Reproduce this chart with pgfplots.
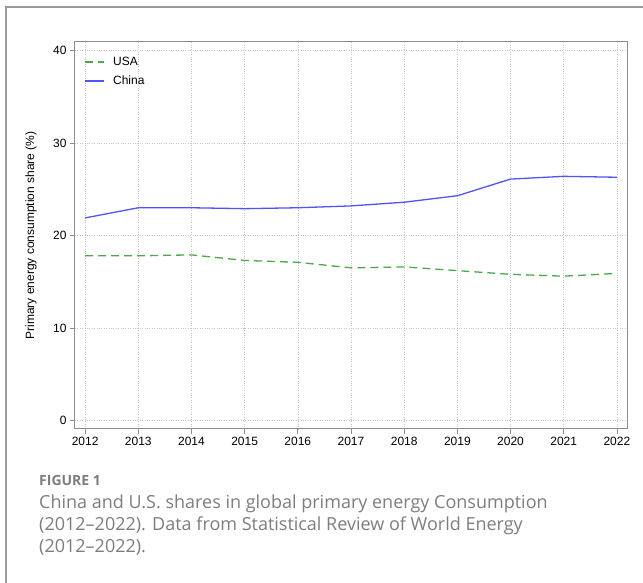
\documentclass[border=0pt]{standalone}
\usepackage{fontspec}
\setmainfont{Liberation Sans}
\newfontfamily\capfont{Open Sans}
\usepackage{pgfplots}
\pgfplotsset{compat=1.18}
\definecolor{usagreen}{RGB}{76,168,76}
\definecolor{chinablue}{RGB}{82,82,250}
\definecolor{framegray}{RGB}{155,155,155}
\definecolor{capgray}{RGB}{125,125,125}
\definecolor{axgray}{RGB}{140,140,140}
\begin{document}
\begin{tikzpicture}[x=1pt,y=1pt]
\path[use as bounding box] (0,0) rectangle (643,583);
\draw[framegray, line width=1.6pt] (6,-2) -- (6,576) -- (646,576);
\begin{axis}[at={(75pt,154pt)}, anchor=south west,
  width=552pt, height=387pt, scale only axis,
  xmin=2011.81, xmax=2022.19, ymin=-0.93, ymax=40.93,
  xtick={2012,2013,2014,2015,2016,2017,2018,2019,2020,2021,2022},
  ytick={0,10,20,30,40},
  /pgf/number format/1000 sep={},
  /pgf/number format/assume math mode=true,
  tick label style={font=\fontsize{12}{14}\selectfont, text=black},
  tick align=outside, tick pos=left, major tick length=5pt,
  every tick/.style={axgray, line width=0.8pt},
  axis line style={axgray, line width=1pt},
  grid=major, grid style={dotted, gray!45, line width=0.6pt},
  ylabel={Primary energy consumption share (\%)},
  ylabel style={font=\fontsize{12}{14}\selectfont, at={(axis description cs:-0.0797,0.5)}, anchor=center},
  legend image code/.code={\draw[#1] (0pt,0pt) -- (19pt,0pt);},
  legend style={at={(axis description cs:0.012,0.972)}, anchor=north west, draw=none, fill=none,
    font=\fontsize{12}{14}\selectfont, row sep=5pt, nodes={inner xsep=8pt}},
  legend cell align=left,
]
\addplot[usagreen, line width=1.3pt, dash pattern=on 8pt off 5pt] coordinates {
(2012,17.8) (2013,17.8) (2014,17.9) (2015,17.3) (2016,17.1) (2017,16.5)
(2018,16.6) (2019,16.2) (2020,15.8) (2021,15.6) (2022,15.9)};
\addlegendentry{USA}
\addplot[chinablue, line width=1.3pt] coordinates {
(2012,21.9) (2013,23.0) (2014,23.0) (2015,22.9) (2016,23.0) (2017,23.2)
(2018,23.6) (2019,24.3) (2020,26.1) (2021,26.4) (2022,26.3)};
\addlegendentry{China}
\end{axis}
\node[anchor=base west, inner sep=0, text=capgray, font=\capfont\bfseries\fontsize{14}{16}\selectfont] at (39,583-486) {FIGURE 1};
\node[anchor=base west, inner sep=0, text=capgray, font=\capfont\fontsize{18}{21}\selectfont] at (39,583-509) {China and U.S. shares in global primary energy Consumption};
\node[anchor=base west, inner sep=0, text=capgray, font=\capfont\fontsize{18}{21}\selectfont] at (39,583-531) {(2012–2022). Data from Statistical Review of World Energy};
\node[anchor=base west, inner sep=0, text=capgray, font=\capfont\fontsize{18}{21}\selectfont] at (39,583-553) {(2012–2022).};
\end{tikzpicture}
\end{document}
